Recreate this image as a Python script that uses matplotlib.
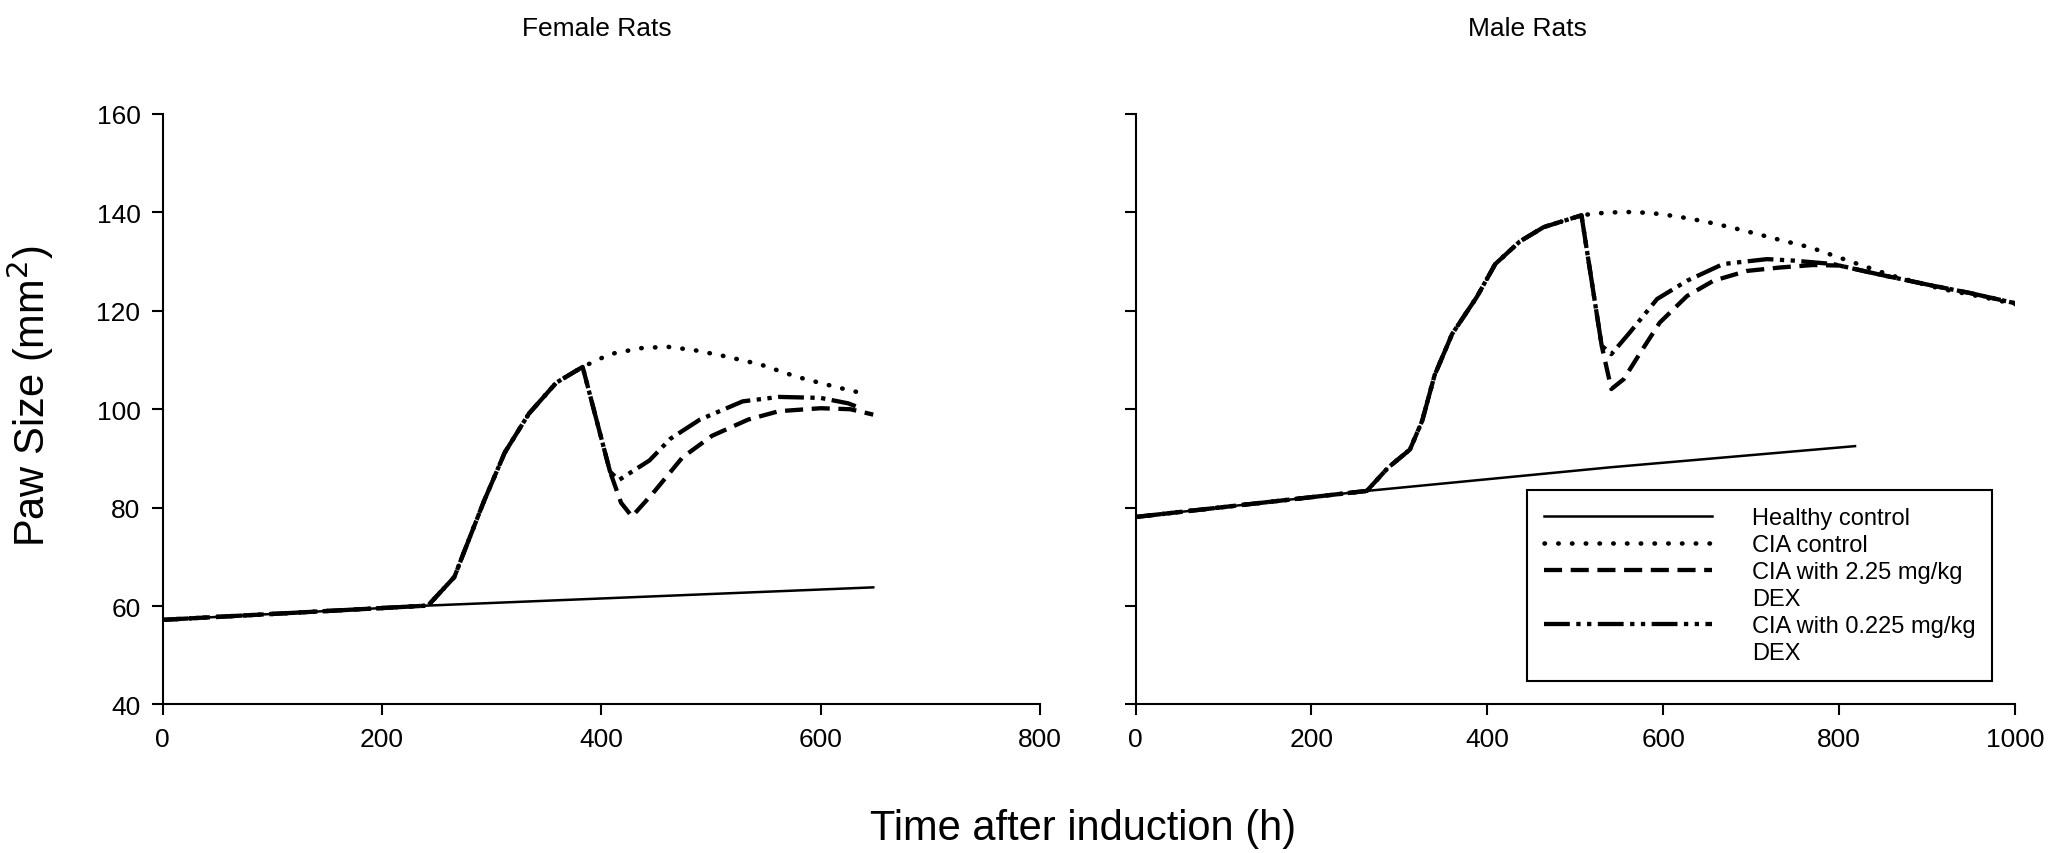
#paw_size_plot.py

import matplotlib
matplotlib.use("Agg")
import matplotlib.pyplot as plt
from matplotlib.lines import Line2D

plt.rcParams['font.family'] = ['Liberation Sans', 'DejaVu Sans']

# ---- female rats (time in h, paw size in mm2) ----
f_healthy_t = [0, 242, 648]
f_healthy_y = [57.2, 60.1, 63.8]

f_cia_t = [0, 242, 266, 274, 293, 312, 334, 359, 383, 408, 436, 460, 485, 512, 545, 578, 616, 643]
f_cia_y = [57.2, 60.1, 65.9, 70.5, 81.3, 91.2, 99.1, 105.4, 108.6, 111.2, 112.4, 112.7, 112.0, 110.8, 109.1, 106.6, 104.4, 103.0]

f_dex_hi_t = [0, 242, 266, 274, 293, 312, 334, 359, 383, 408, 418, 428, 447, 474, 501, 534, 562, 600, 627, 648]
f_dex_hi_y = [57.2, 60.1, 65.9, 70.5, 81.3, 91.2, 99.1, 105.4, 108.6, 87.3, 81.0, 78.2, 82.9, 90.2, 94.6, 97.9, 99.6, 100.2, 100.0, 98.9]

f_dex_lo_t = [0, 242, 266, 274, 293, 312, 334, 359, 383, 408, 416, 444, 463, 490, 529, 562, 600, 625, 632]
f_dex_lo_y = [57.2, 60.1, 65.9, 70.5, 81.3, 91.2, 99.1, 105.4, 108.6, 87.3, 85.6, 89.6, 94.0, 97.9, 101.6, 102.5, 102.3, 101.2, 100.6]

# ---- male rats ----
m_healthy_t = [0, 263, 540, 818]
m_healthy_y = [78.1, 83.4, 88.2, 92.5]

m_rise_t = [0, 263, 287, 312, 326, 340, 360, 388, 409, 437, 464, 507]
m_rise_y = [78.1, 83.4, 88.1, 91.8, 97.7, 106.9, 115.3, 122.8, 129.5, 134.1, 137.0, 139.4]

m_cia_t = m_rise_t + [524, 555, 585, 615, 646, 676, 707, 737, 767, 797, 859, 915, 963, 1001]
m_cia_y = m_rise_y + [139.8, 140.1, 139.9, 139.2, 138.2, 137.0, 135.6, 134.2, 132.9, 131.0, 127.2, 124.5, 122.8, 121.3]

m_dex_hi_t = m_rise_t + [530, 541, 555, 574, 596, 627, 657, 695, 733, 770, 800, 845, 901, 949, 1001]
m_dex_hi_y = m_rise_y + [112.9, 104.1, 106.1, 111.5, 117.6, 123.0, 126.1, 128.1, 128.8, 129.3, 129.2, 127.4, 125.3, 123.6, 121.5]

m_dex_lo_t = m_rise_t + [530, 541, 562, 593, 627, 668, 718, 748, 793, 845, 901, 949, 1001]
m_dex_lo_y = m_rise_y + [112.9, 111.2, 115.6, 122.4, 126.1, 129.5, 130.5, 130.2, 129.5, 127.4, 125.3, 123.6, 121.5]

labels = ["Healthy control", "CIA control", "CIA with 2.25 mg/kg", "DEX",
          "CIA with 0.225 mg/kg", "DEX"]

# line styles for the four groups
st_healthy = dict(color='k', lw=1.8, ls='-')
st_cia = dict(color='k', lw=3.3, ls=(0, (0.1, 2.9)), dash_capstyle='round')
st_hi = dict(color='k', lw=3.1, ls=(0, (4.2, 2.0)))
st_lo = dict(color='k', lw=3.1, ls=(0, (6.0, 1.5, 1.0, 1.5, 1.0, 1.5)))

fig = plt.figure(figsize=(20.56, 8.54), dpi=100)
ax1 = fig.add_axes([0.0791, 0.1739, 0.4267, 0.6915])
ax2 = fig.add_axes([0.5523, 0.1739, 0.4278, 0.6915])

ax1.plot(f_healthy_t, f_healthy_y, **st_healthy)
ax1.plot(f_cia_t, f_cia_y, **st_cia)
ax1.plot(f_dex_hi_t, f_dex_hi_y, **st_hi)
ax1.plot(f_dex_lo_t, f_dex_lo_y, **st_lo)

h1, = ax2.plot(m_healthy_t, m_healthy_y, **st_healthy)
h2, = ax2.plot(m_cia_t, m_cia_y, **st_cia)
h3, = ax2.plot(m_dex_hi_t, m_dex_hi_y, **st_hi)
h4, = ax2.plot(m_dex_lo_t, m_dex_lo_y, **st_lo)

for ax in (ax1, ax2):
    ax.set_ylim(40, 160)
    ax.set_yticks(range(40, 161, 20))
    ax.spines['top'].set_visible(False)
    ax.spines['right'].set_visible(False)
    ax.spines['left'].set_linewidth(1.5)
    ax.spines['bottom'].set_linewidth(1.5)
    ax.tick_params(direction='out', length=8, width=1.5, labelsize=19, pad=8)

ax1.set_xlim(0, 800)
ax1.set_xticks(range(0, 801, 200))
ax2.set_xlim(0, 1000)
ax2.set_xticks(range(0, 1001, 200))
ax2.set_yticklabels([])

ax1.set_ylabel("Paw Size (mm$^2$)", fontsize=30)
ax1.yaxis.set_label_coords(-0.122, 0.524)
fig.text(0.527, 0.029, "Time after induction (h)", fontsize=30, ha='center', va='center')
fig.text(0.2904, 0.966, "Female Rats", fontsize=19, ha='center', va='center')
fig.text(0.7427, 0.966, "Male Rats", fontsize=19, ha='center', va='center')

# legend: the "DEX" rows get an empty handle so the line sits on the first text line
blank = Line2D([], [], ls='none')
leg = ax2.legend([h1, h2, h3, blank, h4, blank], labels, loc='upper left',
                 bbox_to_anchor=(0.445, 0.363), borderaxespad=0, fontsize=17,
                 frameon=True, fancybox=False, edgecolor='k', framealpha=1,
                 handlelength=7.1, handletextpad=1.7, labelspacing=0.21,
                 borderpad=0.72)
leg.get_frame().set_linewidth(1.5)

fig.savefig("out.png", dpi=100)
